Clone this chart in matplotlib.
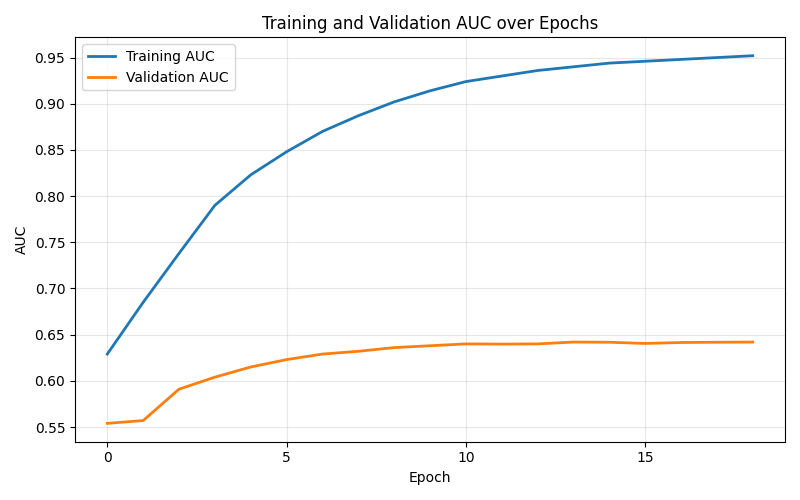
import matplotlib
matplotlib.use("Agg")
import matplotlib.pyplot as plt

# AUC por epoca
epocas = list(range(19))
auc_entrenamiento = [0.629, 0.685, 0.738, 0.790, 0.823, 0.848, 0.870, 0.887, 0.902,
                     0.914, 0.924, 0.930, 0.936, 0.940, 0.944, 0.946, 0.948, 0.950, 0.952]
auc_validacion = [0.554, 0.557, 0.591, 0.604, 0.615, 0.623, 0.629, 0.632, 0.636,
                  0.638, 0.640, 0.6398, 0.640, 0.642, 0.6418, 0.6405, 0.6415, 0.6418, 0.642]
ticks_x = [0, 5, 10, 15]

fig, ax = plt.subplots(figsize=(8, 5), dpi=100)
ax.plot(epocas, auc_entrenamiento, label="Training AUC", linewidth=2)
ax.plot(epocas, auc_validacion, label="Validation AUC", linewidth=2)
ax.set_title("Training and Validation AUC over Epochs")
ax.set_xlabel("Epoch")
ax.set_ylabel("AUC")
ax.set_xticks(ticks_x)
ax.legend(loc="upper left")
ax.grid(True, alpha=0.3)

plt.tight_layout()
plt.savefig("out.png", dpi=100)
plt.close()
